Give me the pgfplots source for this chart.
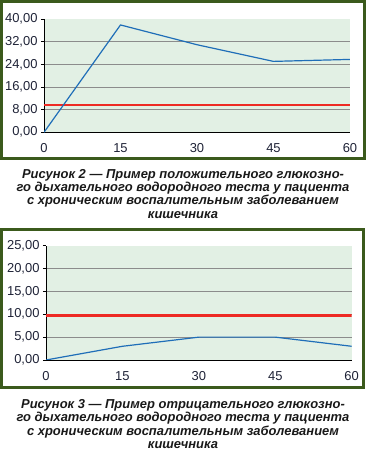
\documentclass[border=0pt]{standalone}
\usepackage{fontspec}
\setmainfont{Liberation Sans}
\usepackage{pgfplots}
\pgfplotsset{compat=1.18}
\definecolor{framegreen}{HTML}{3B5A1C}
\definecolor{bggreen}{HTML}{E2F0E4}
\definecolor{lineblue}{HTML}{1F6EB8}
\definecolor{linered}{HTML}{EE2A24}
\definecolor{gridgray}{HTML}{8C8C8C}
\definecolor{tickcol}{HTML}{1E2236}
\pgfplotsset{
  mystyle/.style={
    scale only axis,
    anchor=south west,
    xmin=0, xmax=60,
    ymin=0,
    axis background/.style={fill=bggreen},
    axis lines*=left,
    axis line style={black, line width=0.8bp},
    xtick={0,15,30,45,60},
    xticklabels={0,15,30,45,60},
    xtick style={draw=none},
    xticklabel style={yshift=-5bp},
    ymajorgrids,
    grid style={gridgray, line width=0.8bp},
    extra y tick style={grid=none},
    ytick style={black, line width=0.8bp},
    major tick length=3bp,
    tick align=outside,
    tick label style={font=\fontsize{13}{13}\selectfont, text=tickcol},
    /pgf/number format/.cd, fixed, fixed zerofill, precision=2, use comma, assume math mode=true,
  }
}
\begin{document}
\begin{tikzpicture}
\path[use as bounding box] (0bp,0bp) rectangle (368bp,451bp);
\draw[framegreen, line width=3bp] (1.5bp,449.5bp) rectangle (364bp,292bp);
\draw[framegreen, line width=3bp] (1.5bp,221.5bp) rectangle (363.5bp,63bp);
\begin{axis}[mystyle, at={(44bp,318.7bp)}, width=306bp, height=113bp,
  ymax=40, ytick={0,8,16,24,32}, extra y ticks={40}]
\addplot[linered, line width=2.5bp] coordinates {(0,9.7) (60,9.7)};
\addplot[lineblue, line width=1.2bp] coordinates {(0,0) (15,38) (30,31) (45,25.1) (60,25.8)};
\end{axis}
\begin{axis}[mystyle, at={(46bp,91bp)}, width=305.7bp, height=114.3bp,
  ymax=25, ytick={0,5,10,15,20}, extra y ticks={25}]
\addplot[linered, line width=2.5bp] coordinates {(0,9.7) (60,9.7)};
\addplot[lineblue, line width=1.2bp] coordinates {(0,0) (15,3) (30,5) (45,5) (60,3)};
\end{axis}
\node[align=center, font=\fontsize{13}{13.3}\selectfont\bfseries\itshape, text=black!90, inner sep=0pt] at (183bp,257.2bp)
  {Рисунок 2 — Пример положительного глюкозно-\\го дыхательного водородного теста у пациента\\с хроническим воспалительным заболеванием\\кишечника};
\node[align=center, font=\fontsize{13}{13.3}\selectfont\bfseries\itshape, text=black!90, inner sep=0pt] at (183bp,27bp)
  {Рисунок 3 — Пример отрицательного глюкозно-\\го дыхательного водородного теста у пациента\\с хроническим воспалительным заболеванием\\кишечника};
\end{tikzpicture}
\end{document}
